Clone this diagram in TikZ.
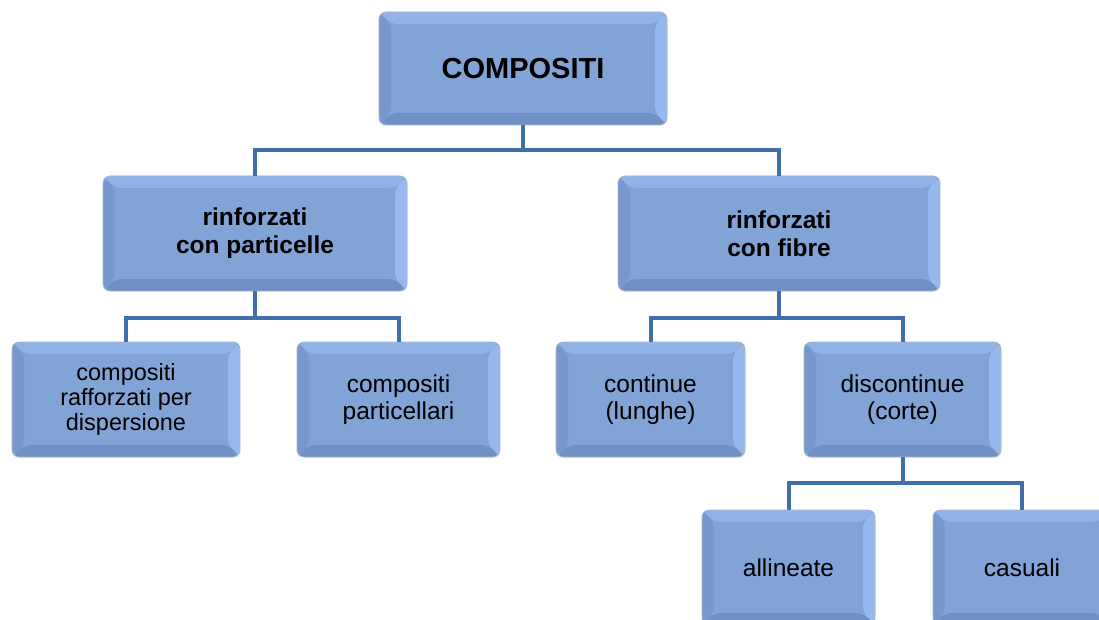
\documentclass[tikz,border=0pt]{standalone}
\usepackage{fontspec}
\setmainfont{Liberation Sans}
\definecolor{boxfill}{HTML}{82A3D6}
\definecolor{boxedge}{HTML}{A9B8CF}
\definecolor{bevtop}{HTML}{92B3E8}
\definecolor{bevright}{HTML}{96B8EE}
\definecolor{bevleft}{HTML}{7797CD}
\definecolor{bevbottom}{HTML}{708FC4}
\definecolor{linecol}{HTML}{4170A8}
\newcommand{\bw}{12pt}
\tikzset{
  blk/.style={rounded corners=7pt, fill=boxfill, draw=boxedge, line width=0.8pt,
    align=center, inner sep=0pt, minimum height=115pt, text=black,
    font=\fontsize{24.5}{27}\selectfont,
    path picture={
      \path (path picture bounding box.north west) coordinate (p1)
            (path picture bounding box.north east) coordinate (p2)
            (path picture bounding box.south east) coordinate (p3)
            (path picture bounding box.south west) coordinate (p4);
      \path ([xshift=\bw,yshift=-\bw]p1) coordinate (q1)
            ([xshift=-\bw,yshift=-\bw]p2) coordinate (q2)
            ([xshift=-\bw,yshift=\bw]p3) coordinate (q3)
            ([xshift=\bw,yshift=\bw]p4) coordinate (q4);
      \fill[bevtop] (p1) -- (p2) -- (q2) -- (q1) -- cycle;
      \fill[bevright] (p2) -- (p3) -- (q3) -- (q2) -- cycle;
      \fill[bevbottom] (p3) -- (p4) -- (q4) -- (q3) -- cycle;
      \fill[bevleft] (p4) -- (p1) -- (q1) -- (q4) -- cycle;
    }},
  head/.style={blk, font=\bfseries\fontsize{24.5}{28}\selectfont},
  conn/.style={draw=linecol, line width=4pt}
}
\begin{document}
\begin{tikzpicture}[x=1pt,y=-1pt]
  \useasboundingbox (0,0) rectangle (1099,620);
  % top level
  \node[head, font=\bfseries\fontsize{29}{32}\selectfont, minimum width=288pt, minimum height=113pt] (comp) at (523,68.5) {COMPOSITI};
  \node[head, minimum width=304pt] (rpart) at (255,233.5) {rinforzati\\con particelle};
  \node[head, minimum width=322pt] (rfib) at (779,233.5) {rinforzati\\con fibre};
  % second level
  \node[blk, minimum width=228pt, font=\fontsize{23.5}{25}\selectfont] (disp) at (126,399.5) {compositi\\rafforzati per\\dispersione};
  \node[blk, minimum width=203pt] (part) at (398.5,399.5) {compositi\\particellari};
  \node[blk, minimum width=189pt] (cont) at (650.5,399.5) {continue\\(lunghe)};
  \node[blk, minimum width=197pt] (disc) at (902.5,399.5) {discontinue\\(corte)};
  % third level
  \node[blk, minimum width=173pt] (alli) at (788.5,567.5) {allineate};
  \node[blk, minimum width=178pt] (casu) at (1022,567.5) {casuali};
  % connectors
  \draw[conn] (comp.south) -- ++(0,25) -| (rpart.north);
  \draw[conn] (comp.south) -- ++(0,25) -| (rfib.north);
  \draw[conn] (rpart.south) -- ++(0,27) -| (disp.north);
  \draw[conn] (rpart.south) -- ++(0,27) -| (part.north);
  \draw[conn] (rfib.south) -- ++(0,27) -| (cont.north);
  \draw[conn] (rfib.south) -- ++(0,27) -| (disc.north);
  \draw[conn] (disc.south) -- ++(0,26) -| (alli.north);
  \draw[conn] (disc.south) -- ++(0,26) -| (casu.north);
\end{tikzpicture}
\end{document}
